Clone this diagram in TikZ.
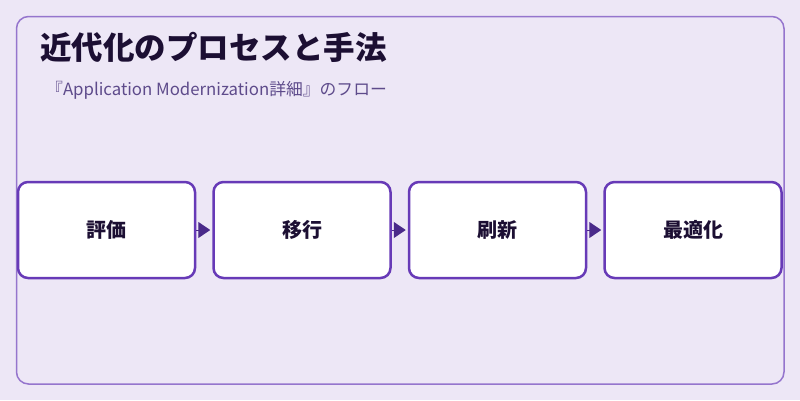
\documentclass[tikz,border=0pt]{standalone}
\usepackage{fontspec}
\setmainfont{Noto Sans CJK JP}
\usepackage{tikz}
\usetikzlibrary{positioning,arrows.meta}
\definecolor{bgpurple}{HTML}{EDE7F6}
\definecolor{framepurple}{HTML}{9575CD}
\definecolor{boxpurple}{HTML}{673AB7}
\definecolor{arrowpurple}{HTML}{4A2A8A}
\definecolor{titleink}{HTML}{1C0F33}
\definecolor{subink}{HTML}{5E4B8B}
\tikzstyle{frame} = [draw=framepurple, line width=1.5pt, rounded corners=12pt]
\tikzstyle{flowbox} = [draw=boxpurple, fill=white, line width=2.5pt,
    rectangle, rounded corners=10pt, minimum width=177pt, minimum height=96pt,
    font=\fontsize{20pt}{24pt}\selectfont\bfseries, text=titleink]
\tikzstyle{flowarrow} = [draw=arrowpurple, line width=1pt,
    -{Triangle[length=12pt,width=16pt]}, shorten >=2pt]

\begin{document}
\begin{tikzpicture}[x=1pt,y=1pt]
    \useasboundingbox[fill=bgpurple] (0,0) rectangle (800,-400);
    \draw[frame] (16.5,-16.5) rectangle (784,-384);
    % title and subtitle
    \node[anchor=base west, inner sep=0, text=titleink,
        font=\fontsize{31.5pt}{36pt}\selectfont\bfseries] (title) at (40,-59)
        {近代化のプロセスと手法};
    \node[anchor=base west, inner sep=0, text=subink,
        font=\fontsize{16.8pt}{20pt}\selectfont] (subtitle) at (46,-95)
        {『Application Modernization詳細』のフロー};
    % flow
    \node[flowbox] (assess) at (106.5,-230) {評価};
    \node[flowbox, right=16pt of assess] (migrate) {移行};
    \node[flowbox, right=16pt of migrate] (renew) {刷新};
    \node[flowbox, right=16pt of renew] (optimize) {最適化};
    \draw[flowarrow] (assess) -- (migrate);
    \draw[flowarrow] (migrate) -- (renew);
    \draw[flowarrow] (renew) -- (optimize);
\end{tikzpicture}
\end{document}
